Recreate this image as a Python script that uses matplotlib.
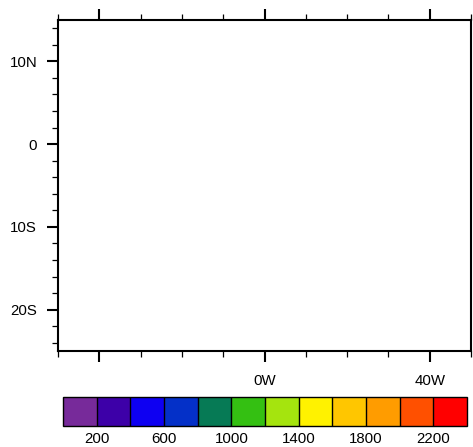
import matplotlib
matplotlib.use("Agg")
import matplotlib.pyplot as plt
import numpy as np
from matplotlib.colors import ListedColormap, BoundaryNorm
from matplotlib.colorbar import ColorbarBase

# --- data ---
lon_range = [-50, 50]
lat_range = [-25, 15]
lon_major = [-40, 0, 40]
lon_major_labels = ["", "0W", "40W"]
lon_minor = [-50, -30, -20, -10, 10, 20, 30, 50]
lat_major = [-20, -10, 0, 10]
lat_major_labels = ["20S", "10S", "0", "10N"]
lat_minor = [-24, -22, -18, -16, -14, -12, -8, -6, -4, -2, 2, 4, 6, 8, 12, 14]
levels = [200, 400, 600, 800, 1000, 1200, 1400, 1600, 1800, 2000, 2200]
level_labels = ["200", "600", "1000", "1400", "1800", "2200"]
colors = ["#772A9A", "#3D00A8", "#0E00F2", "#0430C8", "#067A55", "#34C012",
          "#A5E40E", "#FFF200", "#FFC600", "#FF9C00", "#FF5000", "#FF0000"]

plt.rcParams['font.family'] = ['Liberation Sans', 'DejaVu Sans']
W, H = 473, 447
fig = plt.figure(figsize=(W / 100, H / 100), dpi=100)

ax = fig.add_axes([58 / W, 1 - 351 / H, (471 - 58) / W, (351 - 20) / H])
ax.set_xlim(*lon_range)
ax.set_ylim(*lat_range)
for s in ax.spines.values():
    s.set_linewidth(1.5)
ax.set_xticks(lon_major)
ax.set_xticklabels(lon_major_labels)
ax.set_xticks(lon_minor, minor=True)
ax.set_yticks(lat_major)
ax.set_yticklabels(lat_major_labels)
ax.set_yticks(lat_minor, minor=True)
ax.tick_params(which='major', direction='out', length=8, width=1.5,
               labelsize=10.8, top=True, right=False, pad=7)
ax.tick_params(which='minor', direction='out', length=4.5, width=0.9,
               top=True, right=False)
ax.tick_params(axis='x', which='major', pad=8.5)

cax = fig.add_axes([63 / W, 1 - 426 / H, 404 / W, 29 / H])
bounds = [levels[0] - 200] + levels + [levels[-1] + 200]
cmap = ListedColormap(colors)
norm = BoundaryNorm(bounds, cmap.N)
cb = ColorbarBase(cax, cmap=cmap, norm=norm, boundaries=bounds,
                  orientation='horizontal', drawedges=True)
cb.outline.set_linewidth(1.0)
cb.dividers.set_linewidth(1.0)
cb.set_ticks([int(v) for v in level_labels])
cb.set_ticklabels(level_labels)
cax.tick_params(length=0, labelsize=10.8, pad=4.5)
cax.minorticks_off()

fig.savefig("out.png", dpi=100)
